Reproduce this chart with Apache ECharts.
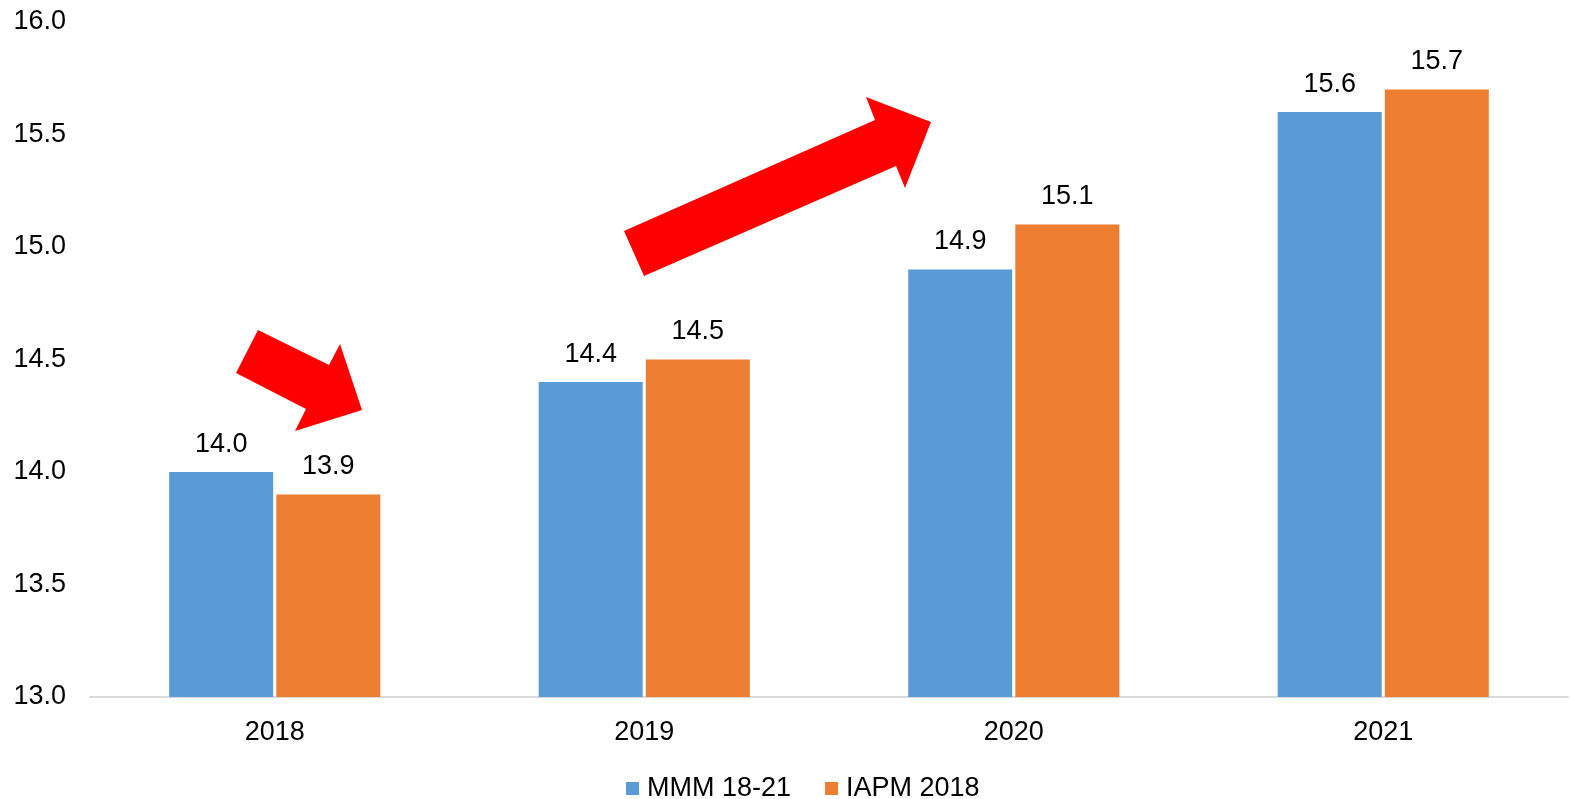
<!DOCTYPE html>
<html><head><meta charset="utf-8">
<script src="https://cdn.jsdelivr.net/npm/echarts@6/dist/echarts.min.js"></script>
<style>html,body{margin:0;padding:0;background:#fff}#c{width:1570px;height:799px}</style>
</head><body><div id="c"></div>
<script>
const categories = ['2018', '2019', '2020', '2021'];
const mmm = [14.0, 14.4, 14.9, 15.6];
const iapm = [13.9, 14.5, 15.1, 15.7];
const seriesNames = ['MMM 18-21', 'IAPM 2018'];
const font = 'Liberation Sans, Arial, sans-serif';
const fs = 27;
const chart = echarts.init(document.getElementById('c'));
const lbl = {show: true, position: 'top', distance: 14, color: '#000', fontSize: fs, fontFamily: font, formatter: p => p.value.toFixed(1)};
chart.setOption({
  animation: false,
  grid: {left: 90, right: 2, top: 22, bottom: 102, containLabel: false},
  legend: {top: 770, left: 621, itemWidth: 13, itemHeight: 13, itemGap: 34, icon: 'rect',
    textStyle: {fontSize: fs, fontFamily: font, color: '#000', padding: [0, 0, 0, 3]}},
  xAxis: {type: 'category', data: categories,
    axisLine: {lineStyle: {color: '#d9d9d9', width: 2}}, axisTick: {show: false},
    axisLabel: {fontSize: fs, fontFamily: font, color: '#000', margin: 22}},
  yAxis: {type: 'value', min: 13, max: 16, interval: 0.5,
    axisLine: {show: false}, axisTick: {show: false}, splitLine: {show: false},
    axisLabel: {fontSize: fs, fontFamily: font, color: '#000', margin: 24, formatter: v => v.toFixed(1)}},
  series: [
    {name: seriesNames[0], type: 'bar', data: mmm, barWidth: 104, barGap: '3%', itemStyle: {color: '#5B9BD5'}, label: lbl},
    {name: seriesNames[1], type: 'bar', data: iapm, barWidth: 104, itemStyle: {color: '#ED7D31'}, label: lbl}
  ],
  graphic: [
    {type: 'polygon', shape: {points: [[258,330],[329,365],[340,344],[362,410],[295,431],[306,409],[236,373]]}, style: {fill: '#FF0000'}},
    {type: 'polygon', shape: {points: [[624,231],[875,120],[866,97],[931,122],[905,188],[896,166],[644,276]]}, style: {fill: '#FF0000'}}
  ]
});
</script></body></html>
